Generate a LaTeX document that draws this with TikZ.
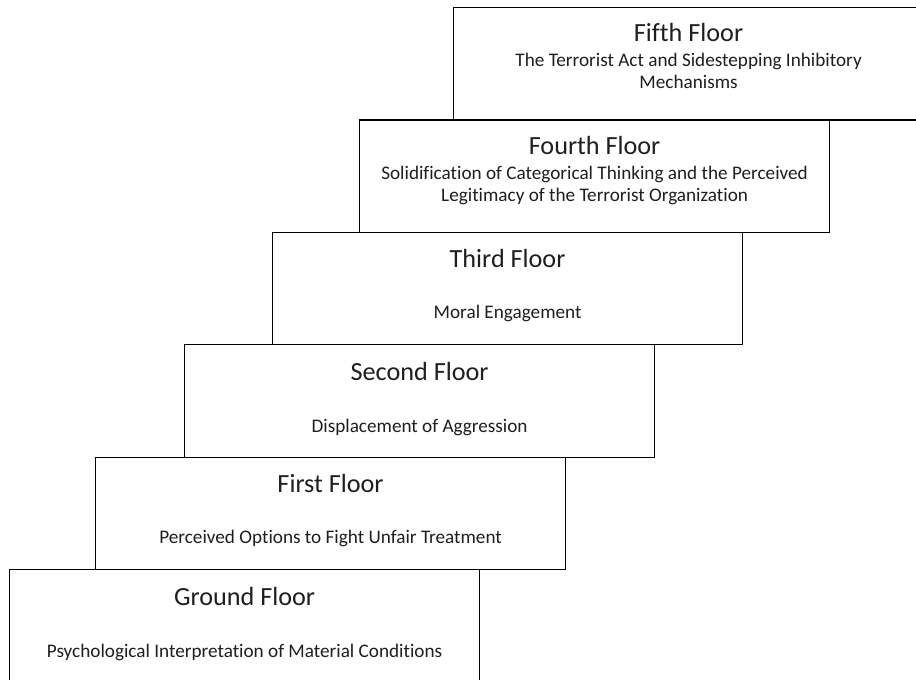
\documentclass[tikz,border=0pt]{standalone}
\usepackage{fontspec}
\setmainfont{Carlito}[Ligatures=NoCommon]
\begin{document}
\begin{tikzpicture}[x=1pt,y=-1pt,
  floorbox/.style={draw=black, line width=1.2pt, fill=white, minimum width=470pt, minimum height=112.4pt, anchor=north west, inner sep=0pt},
  ftitle/.style={font=\fontsize{26.2}{30}\selectfont, text=black!88, inner sep=0pt, anchor=center},
  fsub/.style={font=\fontsize{19.2}{22}\selectfont, text=black!88, inner sep=0pt, align=center, anchor=center}]
\useasboundingbox (0,0) rectangle (916,680);
\clip (0,0) rectangle (916,680);
\node[floorbox] (g) at (9,569.0) {};
\node[floorbox] (f1) at (95,456.6) {};
\node[floorbox] (f2) at (184,344.2) {};
\node[floorbox] (f3) at (272,231.8) {};
\node[floorbox] (f4) at (359,119.4) {};
\node[floorbox] (f5) at (453,7.0) {};
\node[ftitle] (gt) at ([yshift=-27pt]g.north) {Ground Floor};
\node[fsub] (gs) at ([yshift=-83pt]g.north) {Psychological Interpretation of Material Conditions};
\node[ftitle] (f1t) at ([yshift=-27pt]f1.north) {First Floor};
\node[fsub] (f1s) at ([yshift=-82pt]f1.north) {Perceived Options to Fight Unfair Treatment};
\node[ftitle] (f2t) at ([yshift=-27pt]f2.north) {Second Floor};
\node[fsub] (f2s) at ([yshift=-83pt]f2.north) {Displacement of Aggression};
\node[ftitle] (f3t) at ([yshift=-27pt]f3.north) {Third Floor};
\node[fsub] (f3s) at ([yshift=-82pt]f3.north) {Moral Engagement};
\node[ftitle] (f4t) at ([yshift=-26pt]f4.north) {Fourth Floor};
\node[fsub] (f4s) at ([yshift=-66pt]f4.north) {Solidification of Categorical Thinking and the Perceived\\Legitimacy of the Terrorist Organization};
\node[ftitle] (f5t) at ([yshift=-25pt]f5.north) {Fifth Floor};
\node[fsub] (f5s) at ([yshift=-64pt]f5.north) {The Terrorist Act and Sidestepping Inhibitory\\Mechanisms};
\end{tikzpicture}
\end{document}
